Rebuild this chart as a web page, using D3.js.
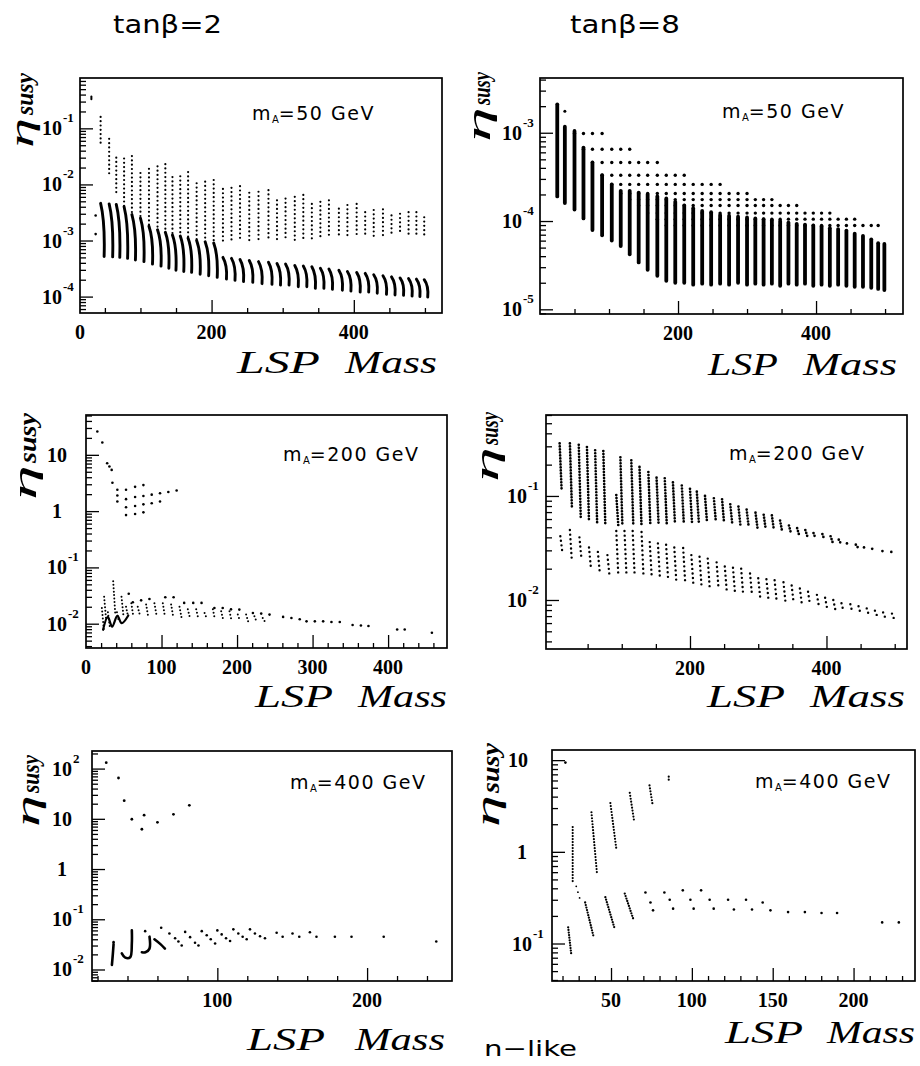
<!DOCTYPE html>
<html>
<head>
<meta charset="utf-8">
<script src="https://cdn.jsdelivr.net/npm/d3@7/dist/d3.min.js"></script>
<style>
html,body{margin:0;padding:0;background:#fff;}
svg{display:block;}
</style>
</head>
<body>
<svg id="chart" width="920" height="1066" xmlns="http://www.w3.org/2000/svg"></svg>
<script>
// ================= DATA =================
const colTitles = ["tanβ=2", "tanβ=8"];
const footerText = "n−like";
const mALabels = ["50", "50", "200", "200", "400", "400"];

// ---- Panel 1 : tanβ=2, mA=50 (column scan: sparse grid + dense arcs)
const p1_mass     = [44,56,66,77,88,100,112,124,135,145,156,167,179,191,203,216,228,240,253,266,280,292,304,317,329,341,353,365,379,391,404,416,428,441,453,465,477,488,499];
const p1_gridTop  = [0.16,0.065,0.030,0.029,0.032,0.016,0.019,0.021,0.023,0.0135,0.014,0.0166,0.0105,0.0112,0.012,0.0083,0.0087,0.0093,0.0071,0.0074,0.0079,0.0052,0.0056,0.006,0.0065,0.0045,0.0049,0.0052,0.0037,0.0043,0.0045,0.0032,0.0035,0.0036,0.0028,0.003,0.0032,0.0032,0.0026];
const p1_gridBot  = [0.055,0.015,0.0062,4.0e-3,2.9e-3,2.5e-3,1.8e-3,1.55e-3,1.4e-3,1.25e-3,1.2e-3,1.1e-3,1.0e-3,9.5e-4,9e-4,9.5e-4,9.5e-4,9.5e-4,9.5e-4,9.5e-4,9.8e-4,1.0e-3,1.0e-3,1.0e-3,1.05e-3,1.05e-3,1.1e-3,1.1e-3,1.15e-3,1.15e-3,1.2e-3,1.2e-3,1.2e-3,1.2e-3,1.25e-3,1.25e-3,1.25e-3,1.25e-3,1.26e-3];
const p1_denseTop = [4.6e-3,4.5e-3,4.4e-3,4.0e-3,2.9e-3,2.5e-3,1.8e-3,1.55e-3,1.4e-3,1.25e-3,1.2e-3,1.1e-3,1.0e-3,9.5e-4,9e-4,5.0e-4,4.8e-4,4.6e-4,4.4e-4,4.2e-4,4.1e-4,3.9e-4,3.8e-4,3.6e-4,3.5e-4,3.4e-4,3.2e-4,3.1e-4,2.95e-4,2.8e-4,2.7e-4,2.6e-4,2.45e-4,2.35e-4,2.25e-4,2.15e-4,2.1e-4,2.05e-4,2.0e-4];
const p1_denseBot = [5.2e-4,5.1e-4,5.0e-4,4.8e-4,4.5e-4,4.2e-4,3.8e-4,3.5e-4,3.2e-4,2.95e-4,2.8e-4,2.7e-4,2.5e-4,2.35e-4,2.2e-4,2.05e-4,1.95e-4,1.85e-4,1.8e-4,1.7e-4,1.65e-4,1.6e-4,1.6e-4,1.5e-4,1.5e-4,1.4e-4,1.4e-4,1.35e-4,1.3e-4,1.25e-4,1.2e-4,1.2e-4,1.15e-4,1.1e-4,1.07e-4,1.05e-4,1.02e-4,1.0e-4,9.8e-5];
const p1_extraSeg = [[31, 0.37, 0.33]];
const p1_extraPts = [[37, 2.8e-3], [37, 1.3e-3]];
const p1_xTicks = [200, 400];
const p1_yTicks = [1e-1, 1e-2, 1e-3, 1e-4];
const p1_yTickLabels = ["10^-1", "10^-2", "10^-3", "10^-4"];

// ---- Panel 2 : tanβ=8, mA=50 (dense columns + flat dotted rows)
const p2_mass = [25,36,50,63,76,90,104,117,130,143,156,170,183,196,209,222,235,248,261,274,287,300,312,324,336,348,360,372,384,396,408,420,432,444,456,468,480,490,499];
const p2_top  = [2.1e-3,1.17e-3,1.05e-3,6.8e-4,4.6e-4,3.3e-4,2.6e-4,2.2e-4,2.2e-4,2.1e-4,2.0e-4,1.9e-4,1.8e-4,1.65e-4,1.5e-4,1.4e-4,1.3e-4,1.26e-4,1.17e-4,1.15e-4,1.12e-4,1.1e-4,1.07e-4,1.05e-4,1.02e-4,1.0e-4,9.6e-5,9.3e-5,9.1e-5,8.9e-5,8.7e-5,8.3e-5,8.1e-5,7.8e-5,7.2e-5,6.8e-5,6.2e-5,5.6e-5,5.5e-5];
const p2_bot  = [1.9e-4,1.6e-4,1.35e-4,1.07e-4,7.9e-5,6.9e-5,6.0e-5,5.2e-5,4.2e-5,3.4e-5,2.8e-5,2.4e-5,2.1e-5,2.0e-5,2.0e-5,1.9e-5,1.95e-5,1.9e-5,1.95e-5,1.9e-5,2.0e-5,1.9e-5,1.95e-5,1.9e-5,1.95e-5,1.85e-5,1.95e-5,1.9e-5,1.95e-5,1.85e-5,1.9e-5,1.85e-5,1.9e-5,1.85e-5,1.8e-5,1.8e-5,1.75e-5,1.7e-5,1.65e-5];
const p2_rowLevel = [9.8e-4,6.5e-4,4.6e-4,3.3e-4,2.6e-4,2.05e-4,1.75e-4,1.5e-4,1.23e-4,1.05e-4,8.9e-5];
const p2_rowStart = [50,63,76,90,104,117,130,143,156,170,183];
const p2_rowEnd   = [90,130,176,216,263,302,340,376,420,456,490];
const p2_extraPts = [[36, 1.75e-3]];
const p2_xTicks = [200, 400];
const p2_yTicks = [1e-3, 1e-4, 1e-5];
const p2_yTickLabels = ["10^-3", "10^-4", "10^-5"];

// ---- Panel 3 : tanβ=2, mA=200 (sparse points)
const p3_upperPts = [[15,26],[21.6,16.6],[28,7.1],[31,6.2],[34,5.4],[35,3.2],[41.5,2.4],[41.5,1.9],[41.5,1.48],
  [53,2.4],[65,2.7],[76,2.9],
  [53,1.63],[65,1.78],[76,1.86],[87,1.96],[98,2.08],[109,2.18],[120,2.33],
  [53,1.17],[65,1.23],[76,1.32],[87,1.38],[98,1.48],
  [53,0.85],[65,0.89],[76,0.95]];
const p3_streaks = [[21,0.019,0.0078],[24,0.030,0.0117],[29,0.016,0.0085],[36,0.057,0.0155],[41,0.016,0.0105],[47,0.030,0.0135],[53,0.020,0.0135],[60,0.023,0.0135],[68.5,0.020,0.0145],[79.6,0.022,0.0135],[90.6,0.023,0.0145],[101.7,0.023,0.0138],[112.7,0.022,0.0135],[123.8,0.020,0.0129],[134.8,0.018,0.0129],[145.9,0.018,0.0126],[157,0.0155,0.0126],[168,0.018,0.012],[179,0.0166,0.0117],[190,0.0166,0.0115],[201,0.0145,0.0115],[212,0.0145,0.011],[223,0.0135,0.011],[234,0.0126,0.011]];
const p3_zigzag = [[22.6,0.0078],[28.8,0.0132],[34.6,0.0089],[41.5,0.0138],[47.3,0.0102],[56,0.014]];
const p3_lowerPts = [[56.6,0.034],[62,0.024],[73,0.026],[84,0.0275],[105,0.0295],[116,0.0295],[130,0.0234],[142,0.0234],[153,0.0234],[170,0.019],[181,0.019],[192,0.018],[203,0.0178],[221,0.0155],[232,0.0151],[243,0.0145],[261,0.0132],[272,0.0126],[283,0.012],[292,0.011],[303,0.011],[314,0.011],[325,0.0107],[336,0.0107],[353,0.0095],[364,0.0093],[374,0.0091],[412,0.0079],[422,0.0079],[458,0.0069]];
const p3_xTicks = [0, 100, 200, 300, 400];
const p3_yTicks = [10, 1, 1e-1, 1e-2];
const p3_yTickLabels = ["10", "1", "10^-1", "10^-2"];

// ---- Panel 4 : tanβ=8, mA=200 (two bands of columns)
const p4_upMass = [9,24,37,49,61,73,92,98,114,126,139,151,163,175,188,200,210,222,235,247,259,271,283,296,308,320,332,345,357,369,381,394,406,418,430,443,455,467,482,495];
const p4_upTop  = [0.32,0.32,0.31,0.295,0.275,0.27,0.102,0.235,0.22,0.19,0.17,0.15,0.148,0.135,0.126,0.117,0.11,0.1,0.095,0.093,0.083,0.079,0.074,0.069,0.066,0.065,0.058,0.052,0.049,0.047,0.044,0.043,0.041,0.038,0.035,0.034,0.032,0.031,0.0295,0.029];
const p4_upBot  = [0.112,0.079,0.062,0.059,0.055,0.052,0.052,0.052,0.052,0.052,0.052,0.054,0.054,0.055,0.055,0.056,0.056,0.056,0.056,0.055,0.054,0.052,0.051,0.049,0.048,0.047,0.046,0.044,0.042,0.041,0.039,0.038,0.036,0.035,0.034,0.032,0.0316,0.030,0.029,0.028];
const p4_loMass = [10,24,38,52,65,79,92,104,116,129,141,153,165,177,190,202,214,226,239,251,263,275,288,300,312,324,337,349,361,373,386,398,410,422,435,447,459,471,483,496];
const p4_loTop  = [0.041,0.047,0.040,0.032,0.029,0.027,0.046,0.046,0.046,0.045,0.036,0.035,0.034,0.032,0.0316,0.027,0.026,0.025,0.023,0.021,0.0204,0.020,0.018,0.0162,0.0158,0.0155,0.0148,0.0138,0.0129,0.012,0.0112,0.0105,0.01,0.0093,0.0091,0.0087,0.0083,0.0079,0.0076,0.0074];
const p4_loBot  = [0.029,0.0234,0.025,0.020,0.018,0.0174,0.0174,0.0174,0.017,0.0166,0.0166,0.0162,0.0158,0.0151,0.0148,0.0141,0.0135,0.0129,0.0126,0.012,0.0117,0.0112,0.011,0.0105,0.0102,0.0098,0.0095,0.0093,0.0091,0.0089,0.0087,0.0083,0.0081,0.0078,0.0076,0.0074,0.0072,0.0071,0.0068,0.0066];
const p4_xTicks = [200, 400];
const p4_yTicks = [1e-1, 1e-2];
const p4_yTickLabels = ["10^-1", "10^-2"];

// ---- Panel 5 : tanβ=2, mA=400
const p5_upperPts = [[25.8,131],[34,65],[37.8,23],[42.9,9.8],[49.6,6.2],[51.1,11.8],[60,8.5],[70.7,12.3],[81.3,18.6]];
const p5_lowerPts = [[30.7,0.035],[51.8,0.058],[62.5,0.068],[68,0.052],[71.8,0.042],[74,0.036],[76.2,0.030],[78.5,0.056],[81.8,0.044],[85.1,0.034],[87.4,0.030],[89.6,0.058],[92.9,0.048],[95.6,0.040],[98.5,0.033],[100,0.060],[102.9,0.050],[105.8,0.042],[108.5,0.037],[110.7,0.063],[114,0.052],[116.9,0.045],[119.6,0.040],[121.8,0.063],[125.1,0.052],[128.5,0.046],[131.8,0.042],[139.6,0.054],[143.6,0.045],[150.2,0.052],[154.7,0.045],[161.8,0.055],[166.2,0.045],[178.5,0.045],[189.6,0.045],[211.1,0.045],[246.2,0.036]];
const p5_strokes = [
  [[30.7,0.032],[30.2,0.020],[29.6,0.0123]],
  [[42.9,0.060],[42.9,0.033],[41.8,0.0175],[38.5,0.0172],[36.2,0.021]],
  [[54.7,0.045],[54.7,0.026],[52,0.022],[49.6,0.022]],
  [[58,0.040],[62,0.032],[65,0.026]]
];
const p5_xTicks = [100, 200];
const p5_yTicks = [100, 10, 1, 1e-1, 1e-2];
const p5_yTickLabels = ["10^2", "10", "1", "10^-1", "10^-2"];

// ---- Panel 6 : tanβ=8, mA=400
const p6_upperSegs = [[26.3,1.86,26.3,0.45],[37.9,2.7,41.4,0.56],[49.6,3.4,53.3,1.07],[61.6,4.4,64.4,2.1],[73.8,5.3,75.8,3.2],[85.7,6.6,85.7,5.8]];
const p6_lowerSegs = [[23.5,0.15,25.5,0.074],[34,0.28,39.3,0.117],[46.5,0.32,52,0.15],[58.5,0.35,64,0.18]];
const p6_sparseSegs = [[28.5,0.42,31.4,0.28]];
const p6_pts = [[21.8,9.4],[71.3,0.36],[74.4,0.28],[76,0.23],[83,0.36],[86.3,0.30],[88.4,0.24],[94.4,0.38],[99.1,0.30],[101.1,0.24],[105.7,0.38],[111,0.30],[113.5,0.24],[122.4,0.30],[126,0.235],[133.5,0.30],[137.2,0.235],[143.8,0.28],[148.6,0.23],[159.5,0.22],[169.9,0.22],[180.2,0.215],[189.8,0.215],[217.7,0.17],[228,0.17]];
const p6_xTicks = [50, 100, 150, 200];
const p6_yTicks = [10, 1, 1e-1];
const p6_yTickLabels = ["10", "1", "10^-1"];

// ================= DRAWING =================
const svg = d3.select("#chart");
svg.append("rect").attr("width", 920).attr("height", 1066).attr("fill", "#fff");
const defs = svg.append("defs");
const SERIF = "'Liberation Serif','Times New Roman',serif";
const SANS = "'DejaVu Sans','Noto Sans',sans-serif";

function panel(o) {
  const x = d3.scaleLinear().domain(o.xd).range([o.L, o.R]);
  const y = d3.scaleLog().domain(o.yd).range([o.B, o.T]);
  const g = svg.append("g");
  defs.append("clipPath").attr("id", "cp" + o.id).append("rect")
    .attr("x", o.L).attr("y", o.T).attr("width", o.R - o.L).attr("height", o.B - o.T);
  const tk = g.append("g");
  tk.append("g").attr("transform", `translate(0,${o.B})`)
    .call(d3.axisBottom(x).tickValues(o.xMajor).tickSize(-13).tickFormat(""));
  tk.append("g").attr("transform", `translate(0,${o.B})`)
    .call(d3.axisBottom(x).tickValues(o.xMinor.filter(v => !o.xMajor.includes(v))).tickSize(-5).tickFormat(""));
  const isDec = v => Math.abs(Math.log10(v) - Math.round(Math.log10(v))) < 1e-9;
  tk.append("g").attr("transform", `translate(${o.L},0)`)
    .call(d3.axisLeft(y).tickValues(o.yMajor).tickSize(-13).tickFormat(""));
  tk.append("g").attr("transform", `translate(${o.L},0)`)
    .call(d3.axisLeft(y).tickValues(y.ticks().filter(v => !isDec(v))).tickSize(-6).tickFormat(""));
  tk.selectAll(".domain").remove();
  tk.selectAll(".tick line").attr("stroke", "#000").attr("stroke-width", 1.3);
  const plot = g.append("g").attr("clip-path", `url(#cp${o.id})`);
  g.append("rect").attr("x", o.L).attr("y", o.T).attr("width", o.R - o.L).attr("height", o.B - o.T)
    .attr("fill", "none").attr("stroke", "#000").attr("stroke-width", 1.7);
  g.append("g").selectAll("text").data(o.xLabels).join("text")
    .attr("x", d => x(d)).attr("y", o.B + 26).attr("text-anchor", "middle")
    .attr("font-family", SERIF).attr("font-weight", "bold").attr("font-size", 20)
    .text(d => d);
  o.yMajor.forEach((v, i) => {
    const parts = o.yLabels[i].split("^");
    const yy = y(v);
    const t = g.append("text").attr("font-family", SERIF).attr("font-weight", "bold")
      .attr("font-size", 20).attr("y", yy + 7);
    if (parts.length === 2) {
      t.attr("x", o.L - o.gap).attr("text-anchor", "end").text(parts[0]);
      g.append("text").attr("font-family", SERIF).attr("font-weight", "bold").attr("font-size", 13)
        .attr("x", o.L - o.gap + 1).attr("y", yy - 6).text(parts[1]);
    } else if (parts[0].length === 1) {
      t.attr("x", o.L - o.gap - 10).attr("text-anchor", "middle").text(parts[0]);
    } else {
      t.attr("x", o.L - o.gap - (o.gap2 || 0)).attr("text-anchor", "end").text(parts[0]);
    }
  });
  return { x, y, plot, g };
}

function segs(plot, data, w, pitch) {
  plot.append("g").selectAll("line").data(data).join("line")
    .attr("x1", d => d.x1).attr("y1", d => d.y1).attr("x2", d => d.x2).attr("y2", d => d.y2)
    .attr("stroke", "#000").attr("stroke-width", w).attr("stroke-linecap", "round")
    .attr("stroke-dasharray", pitch ? `0 ${pitch}` : null);
}
function arcs(plot, data, w) {
  plot.append("g").selectAll("path").data(data).join("path")
    .attr("d", d => `M${d.x1},${d.y1} Q${d.x2 + 1},${d.y1 + (d.y2 - d.y1) * 0.35} ${d.x2},${d.y2}`)
    .attr("fill", "none").attr("stroke", "#000").attr("stroke-width", w).attr("stroke-linecap", "round");
}
function dots(plot, data, r) {
  plot.append("g").selectAll("circle").data(data).join("circle")
    .attr("cx", d => d[0]).attr("cy", d => d[1]).attr("r", r).attr("fill", "#000");
}
function polylines(plot, data, x, y, w) {
  const ln = d3.line().x(d => x(d[0])).y(d => y(d[1])).curve(d3.curveCatmullRom);
  plot.append("g").selectAll("path").data(data).join("path")
    .attr("d", ln).attr("fill", "none").attr("stroke", "#000").attr("stroke-width", w)
    .attr("stroke-linecap", "round").attr("stroke-linejoin", "round");
}
function labelMA(xs, yb, val) {
  const t = svg.append("text").attr("x", xs).attr("y", yb).attr("font-family", SANS)
    .attr("font-size", 19).attr("letter-spacing", 1.5).attr("fill", "#000");
  t.append("tspan").text("m");
  t.append("tspan").attr("font-size", 10).attr("dy", 3).attr("letter-spacing", 0).text("A");
  t.append("tspan").attr("dy", -3).text("=" + val + " GeV");
}
function labelLSP(xL, xM, yb, lenL, lenM) {
  svg.append("text").attr("x", xL).attr("y", yb).attr("font-family", SERIF).attr("font-style", "italic")
    .attr("font-size", 32).attr("textLength", lenL).attr("lengthAdjust", "spacingAndGlyphs").text("LSP");
  svg.append("text").attr("x", xM).attr("y", yb).attr("font-family", SERIF).attr("font-style", "italic")
    .attr("font-size", 32).attr("textLength", lenM).attr("lengthAdjust", "spacingAndGlyphs").text("Mass");
}
function labelEta(xb, y0, l0, y1, l1) {
  svg.append("text").attr("transform", `translate(${xb},${y0}) rotate(-90)`)
    .attr("font-family", SERIF).attr("font-style", "italic").attr("font-size", 34)
    .attr("textLength", l0).attr("lengthAdjust", "spacingAndGlyphs").text("η");
  svg.append("text").attr("transform", `translate(${xb},${y1}) rotate(-90)`)
    .attr("font-family", SERIF).attr("font-style", "italic").attr("font-weight", "bold").attr("font-size", 26)
    .attr("textLength", l1).attr("lengthAdjust", "spacingAndGlyphs").text("susy");
}

// ----- Panel 1
{
  const P = panel({id: 1, L: 80, R: 442, T: 78, B: 313, xd: [15, 524], yd: [5.1e-5, 0.79],
    xMajor: p1_xTicks, xMinor: d3.range(50, 501, 50), xLabels: p1_xTicks,
    yMajor: p1_yTicks, yLabels: p1_yTickLabels, gap: 18});
  const {x, y, plot} = P;
  segs(plot, p1_mass.map((m, i) => ({x1: x(m), y1: y(p1_gridTop[i]), x2: x(m), y2: y(p1_gridBot[i])})), 2.2, 4.3);
  arcs(plot, p1_mass.map((m, i) => ({x1: x(m), y1: y(p1_denseTop[i]), x2: x(m) + 3.5, y2: y(p1_denseBot[i])})), 2.9);
  segs(plot, p1_extraSeg.map(d => ({x1: x(d[0]), y1: y(d[1]), x2: x(d[0]), y2: y(d[2])})), 2, 0);
  dots(plot, p1_extraPts.map(d => [x(d[0]), y(d[1])]), 1.3);
  P.g.append("text").attr("x", 80).attr("y", 339).attr("text-anchor", "middle")
    .attr("font-family", SERIF).attr("font-weight", "bold").attr("font-size", 20).text("0");
}
// ----- Panel 2
{
  const P = panel({id: 2, L: 540, R: 903, T: 78, B: 314, xd: [0, 526], yd: [8.85e-6, 4.17e-3],
    xMajor: p2_xTicks, xMinor: d3.range(50, 501, 50), xLabels: p2_xTicks,
    yMajor: p2_yTicks, yLabels: p2_yTickLabels, gap: 18});
  const {x, y, plot} = P;
  const rowDots = [];
  p2_rowLevel.forEach((lv, r) => {
    p2_mass.filter(m => m >= p2_rowStart[r] && m <= p2_rowEnd[r]).forEach(m => rowDots.push([x(m), y(lv)]));
  });
  dots(plot, rowDots, 1.7);
  segs(plot, p2_mass.map((m, i) => ({x1: x(m), y1: y(p2_top[i]), x2: x(m), y2: y(p2_bot[i])})), 3.8, 0);
  dots(plot, p2_extraPts.map(d => [x(d[0]), y(d[1])]), 1.5);
}
// ----- Panel 3
{
  const P = panel({id: 3, L: 86, R: 447, T: 415, B: 648, xd: [0, 478], yd: [3.7e-3, 51],
    xMajor: [100, 200, 300, 400], xMinor: d3.range(20, 461, 20), xLabels: p3_xTicks,
    yMajor: p3_yTicks, yLabels: p3_yTickLabels, gap: 19});
  const {x, y, plot} = P;
  dots(plot, p3_upperPts.map(d => [x(d[0]), y(d[1])]), 1.3);
  segs(plot, p3_streaks.map(d => ({x1: x(d[0]), y1: y(d[1]), x2: x(d[0]) + 2, y2: y(d[2])})), 2, 3.5);
  polylines(plot, [p3_zigzag], x, y, 2.2);
  dots(plot, p3_lowerPts.map(d => [x(d[0]), y(d[1])]), 1.3);
}
// ----- Panel 4
{
  const P = panel({id: 4, L: 546, R: 907, T: 415, B: 649, xd: [-11, 518], yd: [3.38e-3, 0.60],
    xMajor: p4_xTicks, xMinor: d3.range(50, 501, 50), xLabels: p4_xTicks,
    yMajor: p4_yTicks, yLabels: p4_yTickLabels, gap: 19});
  const {x, y, plot} = P;
  segs(plot, p4_upMass.map((m, i) => ({x1: x(m), y1: y(p4_upTop[i]), x2: x(m) + 2, y2: y(p4_upBot[i])})), 2.7, 3);
  segs(plot, p4_loMass.map((m, i) => ({x1: x(m), y1: y(p4_loTop[i]), x2: x(m) + 2, y2: y(p4_loBot[i])})), 2.4, 4.6);
}
// ----- Panel 5
{
  const P = panel({id: 5, L: 92, R: 452, T: 751, B: 981, xd: [16.3, 256.7], yd: [5.9e-3, 224],
    xMajor: p5_xTicks, xMinor: d3.range(20, 241, 20), xLabels: p5_xTicks,
    yMajor: p5_yTicks, yLabels: p5_yTickLabels, gap: 20});
  const {x, y, plot} = P;
  dots(plot, p5_upperPts.map(d => [x(d[0]), y(d[1])]), 1.4);
  dots(plot, p5_lowerPts.map(d => [x(d[0]), y(d[1])]), 1.3);
  polylines(plot, p5_strokes, x, y, 2.6);
}
// ----- Panel 6
{
  const P = panel({id: 6, L: 552, R: 915, T: 750, B: 981, xd: [13.5, 238], yd: [0.039, 12.9],
    xMajor: p6_xTicks, xMinor: d3.range(20, 231, 10), xLabels: p6_xTicks,
    yMajor: p6_yTicks, yLabels: p6_yTickLabels, gap: 20, gap2: 4});
  const {x, y, plot} = P;
  segs(plot, p6_upperSegs.map(d => ({x1: x(d[0]), y1: y(d[1]), x2: x(d[2]), y2: y(d[3])})), 2.2, 3);
  segs(plot, p6_lowerSegs.map(d => ({x1: x(d[0]), y1: y(d[1]), x2: x(d[2]), y2: y(d[3])})), 2.3, 2.6);
  segs(plot, p6_sparseSegs.map(d => ({x1: x(d[0]), y1: y(d[1]), x2: x(d[2]), y2: y(d[3])})), 1.8, 6);
  dots(plot, p6_pts.map(d => [x(d[0]), y(d[1])]), 1.3);
}

// ----- Text labels
svg.append("text").attr("x", 113).attr("y", 33).attr("font-family", SANS).attr("font-size", 24)
  .attr("textLength", 109).attr("lengthAdjust", "spacingAndGlyphs").text(colTitles[0]);
svg.append("text").attr("x", 570).attr("y", 33).attr("font-family", SANS).attr("font-size", 24)
  .attr("textLength", 110).attr("lengthAdjust", "spacingAndGlyphs").text(colTitles[1]);
svg.append("text").attr("x", 484).attr("y", 1056).attr("font-family", SANS).attr("font-size", 22)
  .attr("textLength", 93).attr("lengthAdjust", "spacingAndGlyphs").text(footerText);

labelMA(252, 120, mALabels[0]);
labelMA(722, 118, mALabels[1]);
labelMA(283, 461, mALabels[2]);
labelMA(729, 460, mALabels[3]);
labelMA(290, 789, mALabels[4]);
labelMA(755, 788, mALabels[5]);

labelLSP(237, 345, 373, 83, 92);
labelLSP(708, 803, 375, 70, 94);
labelLSP(255, 358, 707, 78, 89);
labelLSP(707, 810, 707, 78, 95);
labelLSP(247, 355, 1050, 78, 90);
labelLSP(725, 827, 1043, 78, 88);

labelEta(33, 148, 30, 115, 42);
labelEta(490, 142, 35, 105, 33);
labelEta(36, 500, 35, 463, 50);
labelEta(498, 482, 35, 445, 33);
labelEta(39, 827, 32, 793, 38);
labelEta(499, 827, 32, 793, 50);
</script>
</body>
</html>
